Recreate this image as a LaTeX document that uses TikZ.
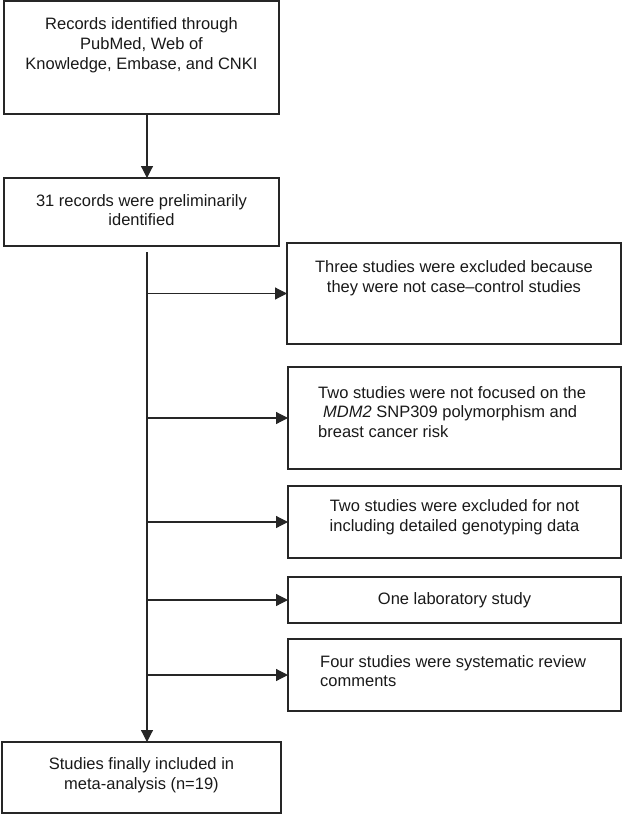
\documentclass[tikz,border=0pt]{standalone}
\usepackage{fontspec}
\setmainfont{Liberation Sans}
\usetikzlibrary{arrows.meta,calc}
\begin{document}
\begin{tikzpicture}[x=1pt,y=-1pt,
  box/.style={draw=black!85,line width=1.2pt,rectangle,inner sep=0pt,outer sep=0pt},
  txt/.style={inner sep=0pt,font=\fontsize{16.5}{19.8}\selectfont,text=black!90},
  arr/.style={draw=black!85,line width=1.2pt,-{Triangle[length=12pt,width=12pt]}},
  ln/.style={draw=black!85,line width=1.2pt}]
\useasboundingbox (0,0) rectangle (622,814);
% boxes
\node[box,minimum width=275pt,minimum height=113pt] (b1) at (141.5,57.5) {};
\node[box,minimum width=275pt,minimum height=68pt] (b2) at (141.5,212) {};
\node[box,minimum width=334pt,minimum height=101pt] (b3) at (454,293.5) {};
\node[box,minimum width=333pt,minimum height=102pt] (b4) at (454.5,418) {};
\node[box,minimum width=333pt,minimum height=72pt] (b5) at (454.5,522) {};
\node[box,minimum width=333pt,minimum height=46pt] (b6) at (454.5,600) {};
\node[box,minimum width=333pt,minimum height=72pt] (b7) at (454.5,675) {};
\node[box,minimum width=279pt,minimum height=71pt] (b8) at (141.5,777.5) {};
% texts
\node[txt,align=center] (t1) at (141.5,45.5) {Records identified through\\PubMed, Web of\\Knowledge, Embase, and CNKI};
\node[txt,align=center] (t2) at (141.5,210) {31 records were preliminarily\\identified};
\node[txt,align=center] (t3) at (454,278) {Three studies were excluded because\\they were not case--control studies};
\node[txt,align=left,anchor=west] (t4) at (318,412) {Two studies were not focused on the\\\hspace*{5pt}\textit{MDM2} SNP309 polymorphism and\\breast cancer risk};
\node[txt,align=center] (t5) at (454.5,517) {Two studies were excluded for not\\including detailed genotyping data};
\node[txt,align=center] (t6) at (454.5,600) {One laboratory study};
\node[txt,align=left,anchor=west] (t7) at (320,671) {Four studies were systematic review\\comments};
\node[txt,align=center] (t8) at (141.5,775.5) {Studies finally included in\\meta-analysis (n=19)};
% connectors
\coordinate (spine) at (147,252);
\draw[arr] (b1.south -| spine) -- (b2.north -| spine);
\draw[arr] (spine) -- (b8.north -| spine);
\foreach \b in {b3,b4,b5,b6,b7} {
  \draw[arr] (\b.west -| spine) -- (\b.west);
}
\end{tikzpicture}
\end{document}
